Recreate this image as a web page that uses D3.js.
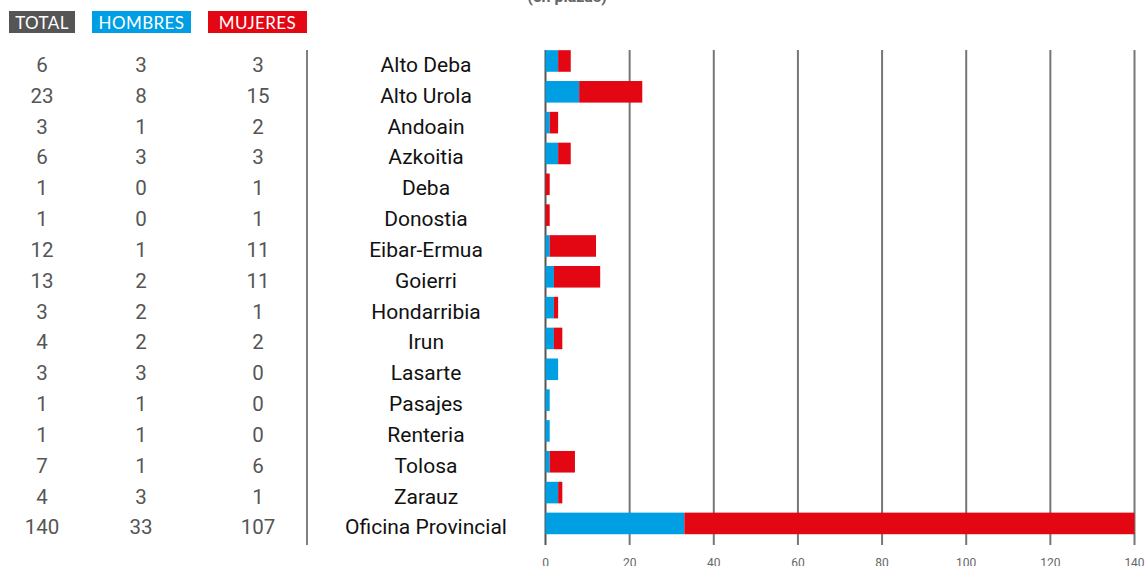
<!DOCTYPE html>
<html><head><meta charset="utf-8">
<script src="https://cdn.jsdelivr.net/npm/d3@7"></script>
<style>html,body{margin:0;padding:0;background:#fff;overflow:hidden}</style>
</head><body>
<svg id="c" width="1145" height="566"></svg>
<script>
const categories = ["Alto Deba","Alto Urola","Andoain","Azkoitia","Deba","Donostia","Eibar-Ermua","Goierri","Hondarribia","Irun","Lasarte","Pasajes","Renteria","Tolosa","Zarauz","Oficina Provincial"];
const totals  = [6,23,3,6,1,1,12,13,3,4,3,1,1,7,4,140];
const hombres = [3,8,1,3,0,0,1,2,2,2,3,1,1,1,3,33];
const mujeres = [3,15,2,3,1,1,11,11,1,2,0,0,0,6,1,107];
const xTicks  = [0,20,40,60,80,100,120,140];
const legendItems = ["TOTAL","HOMBRES","MUJERES"];
const subtitle = "(en plazas)";

const C_TOTAL="#555555", C_H="#009fe3", C_M="#e30613";
const svg = d3.select("#c");

const x = d3.scaleLinear().domain([0,140]).range([545.5,1134.5]);
const y = d3.scaleBand().domain(categories).range([39.4,545]).paddingInner(0.3).paddingOuter(0.35);

// subtitle (cut at top)
svg.append("text").attr("x",567).attr("y",2).attr("text-anchor","middle")
  .attr("font-family","Roboto").attr("font-weight","bold").attr("font-size",16)
  .attr("fill","#666").text(subtitle);

// legend
const legX=[9,92,208], legW=[66,99,99], legC=[C_TOTAL,C_H,C_M];
legendItems.forEach((t,i)=>{
  svg.append("rect").attr("x",legX[i]).attr("y",11).attr("width",legW[i]).attr("height",22).attr("fill",legC[i]);
  svg.append("text").attr("x",legX[i]+legW[i]/2).attr("y",28.5).attr("text-anchor","middle")
    .attr("font-family","Lato").attr("font-size",17).attr("letter-spacing","0.4px")
    .attr("fill","#fff").text(t);
});

// grid lines
svg.append("g").selectAll("line").data(xTicks).join("line")
  .attr("x1",d=>x(d)).attr("x2",d=>x(d)).attr("y1",50).attr("y2",545)
  .attr("stroke",d=>d===0?"#555":"#777").attr("stroke-width",2);

// tick labels
svg.append("g").selectAll("text").data(xTicks).join("text")
  .attr("x",d=>x(d)).attr("y",567).attr("text-anchor","middle")
  .attr("font-family","Roboto").attr("font-size",12).attr("fill","#666").text(d=>d);

// separator
svg.append("line").attr("x1",307).attr("x2",307).attr("y1",50).attr("y2",545)
  .attr("stroke","#555").attr("stroke-width",1.5);

// bars
const rows = categories.map((c,i)=>({c,t:totals[i],h:hombres[i],m:mujeres[i]}));
const g = svg.append("g");
g.selectAll("rect.h").data(rows).join("rect").attr("class","h")
  .attr("x",x(0)).attr("y",d=>y(d.c)).attr("height",y.bandwidth())
  .attr("width",d=>x(d.h)-x(0)).attr("fill",C_H);
g.selectAll("rect.m").data(rows).join("rect").attr("class","m")
  .attr("x",d=>x(d.h)).attr("y",d=>y(d.c)).attr("height",y.bandwidth())
  .attr("width",d=>x(d.h+d.m)-x(d.h)).attr("fill",C_M);

// text columns
const base = d=>y(d.c)+y.bandwidth()/2+11;
const cols = [{x:42,k:"t",fill:"#555"},{x:141,k:"h",fill:"#555"},{x:258,k:"m",fill:"#555"}];
cols.forEach(col=>{
  svg.append("g").selectAll("text").data(rows).join("text")
    .attr("x",col.x).attr("y",base).attr("text-anchor","middle")
    .attr("font-family","Roboto").attr("font-size",20.5).attr("fill",col.fill).text(d=>d[col.k]);
});
svg.append("g").selectAll("text").data(rows).join("text")
  .attr("x",426).attr("y",base).attr("text-anchor","middle")
  .attr("font-family","Roboto").attr("font-size",21).attr("fill","#111").text(d=>d.c);
</script>
</body></html>
